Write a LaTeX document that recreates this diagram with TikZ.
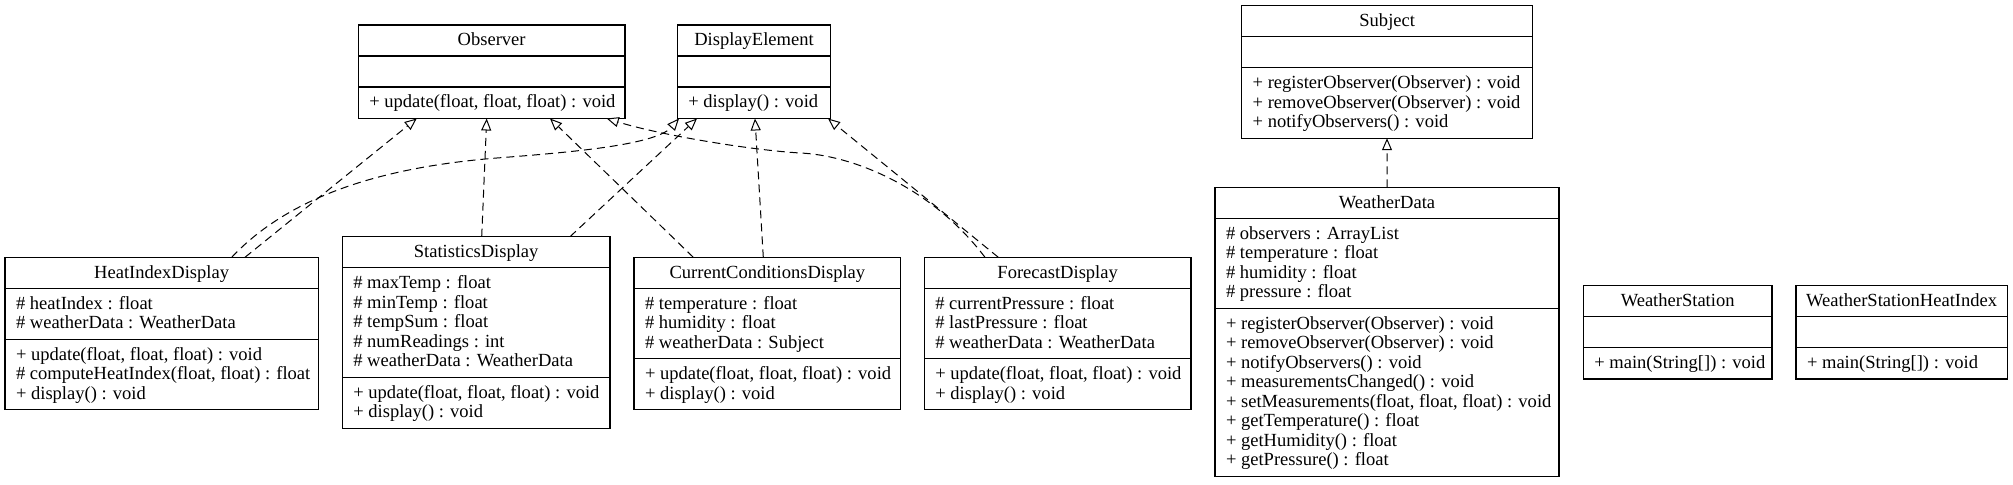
\documentclass[tikz,border=0pt]{standalone}
\usepackage{fontspec}
\setmainfont{Liberation Serif}
\usetikzlibrary{arrows.meta,calc}
\tikzset{
  classbox/.style={draw, line width=1.2bp, inner sep=0pt, outer sep=0pt, anchor=north west, fill=white},
  divider/.style={line width=1.2bp},
  headtxt/.style={inner sep=0pt, outer sep=0pt, anchor=base, font=\fontsize{18.6}{19.5}\selectfont},
  rowtxt/.style={inner sep=0pt, outer sep=0pt, anchor=base west, font=\fontsize{18.6}{19.5}\selectfont},
  realize/.style={line width=1bp, dash pattern=on 8bp off 5bp, -{Triangle[length=12bp,width=10bp,fill=white]}},
}
% #1 id, #2 left, #3 top, #4 right, #5 n attrs, #6 n methods, #7 name, #8 attrs, #9 methods
\newcommand{\ClassBox}[9]{%
  \pgfmathsetmacro{\cbHA}{#5==0 ? 31 : 19.5*#5+12}%
  \pgfmathsetmacro{\cbHM}{#6==0 ? 31 : 19.5*#6+12}%
  \pgfmathsetmacro{\cbDA}{#3+31}%
  \pgfmathsetmacro{\cbDM}{\cbDA+\cbHA}%
  \pgfmathsetmacro{\cbB}{\cbDM+\cbHM}%
  \pgfmathsetmacro{\cbW}{#4-#2}%
  \pgfmathsetmacro{\cbH}{\cbB-#3}%
  \node[classbox, minimum width=\cbW bp, minimum height=\cbH bp] (#1) at (#2,#3) {};
  \draw[divider] (#2,\cbDA) -- (#4,\cbDA);
  \draw[divider] (#2,\cbDM) -- (#4,\cbDM);
  \node[headtxt] (#1-name) at ({(#2+#4)/2},{#3+21}) {#7};
  \ifnum#5>0
    \foreach \cbT [count=\cbI] in {#8} {\node[rowtxt] (#1-a\cbI) at ({#2+\cbpad},{\cbDA+21+(\cbI-1)*19.5}) {\cbT};}
  \fi
  \ifnum#6>0
    \foreach \cbT [count=\cbI] in {#9} {\node[rowtxt] (#1-m\cbI) at ({#2+\cbpad},{\cbDM+21+(\cbI-1)*19.5}) {\cbT};}
  \fi
}
\def\cbpad{11}
\begin{document}
\begin{tikzpicture}[x=1bp,y=-1bp]
\fill[white] (0,0) rectangle (2013,485);
\useasboundingbox (0,0) rectangle (2013,485);

\ClassBox{obs}{358.3}{25}{625}{0}{1}{Observer}{}{{+ update(float, float, float) : void}}
\ClassBox{de}{677.3}{25}{830.7}{0}{1}{DisplayElement}{}{{+ display() : void}}
\ClassBox{subj}{1241.7}{5.7}{1532.7}{0}{3}{Subject}{}{{+ registerObserver(Observer) : void},{+ removeObserver(Observer) : void},{+ notifyObservers() : void}}

\ClassBox{hid}{5}{257.3}{318.3}{2}{3}{HeatIndexDisplay}{{\# heatIndex : float},{\# weatherData : WeatherData}}{{+ update(float, float, float) : void},{\# computeHeatIndex(float, float) : float},{+ display() : void}}
\ClassBox{stat}{342.3}{236.7}{610}{5}{2}{StatisticsDisplay}{{\# maxTemp : float},{\# minTemp : float},{\# tempSum : float},{\# numReadings : int},{\# weatherData : WeatherData}}{{+ update(float, float, float) : void},{+ display() : void}}
\ClassBox{ccd}{634}{257.3}{900.7}{3}{2}{CurrentConditionsDisplay}{{\# temperature : float},{\# humidity : float},{\# weatherData : Subject}}{{+ update(float, float, float) : void},{+ display() : void}}
\ClassBox{fc}{924.3}{257.3}{1191}{3}{2}{ForecastDisplay}{{\# currentPressure : float},{\# lastPressure : float},{\# weatherData : WeatherData}}{{+ update(float, float, float) : void},{+ display() : void}}
\ClassBox{wd}{1215}{187.3}{1559}{4}{8}{WeatherData}{{\# observers : ArrayList},{\# temperature : float},{\# humidity : float},{\# pressure : float}}{{+ registerObserver(Observer) : void},{+ removeObserver(Observer) : void},{+ notifyObservers() : void},{+ measurementsChanged() : void},{+ setMeasurements(float, float, float) : void},{+ getTemperature() : float},{+ getHumidity() : float},{+ getPressure() : float}}
\ClassBox{ws}{1583.3}{285.5}{1772}{0}{1}{WeatherStation}{}{{+ main(String[]) : void}}
\ClassBox{wshi}{1796}{285.5}{2007.3}{0}{1}{WeatherStationHeatIndex}{}{{+ main(String[]) : void}}

% realizations
\draw[realize] ($(hid.north west)+(240,0)$) -- ($(obs.south west)+(58.4,0)$);
\draw[realize] ($(hid.north west)+(226.7,0)$) .. controls (295,190) and (397,166) .. (497,158)
  .. controls (560,153) and (655,146) .. ($(de.south west)+(1.7,0)$);
\draw[realize] ($(stat.north west)+(139.4,0)$) -- ($(obs.south west)+(128.4,0)$);
\draw[realize] ($(stat.north west)+(227.7,0)$) -- ($(de.south west)+(19.7,0)$);
\draw[realize] ($(ccd.north west)+(59.3,0)$) -- ($(obs.south west)+(191.7,0)$);
\draw[realize] ($(ccd.north west)+(129.3,0)$) -- ($(de.south west)+(77.7,0)$);
\draw[realize] ($(fc.north west)+(60.7,0)$) .. controls (930,185) and (850,155) .. (800,153)
  .. controls (750,150) and (660,135) .. ($(obs.south west)+(248.4,0)$);
\draw[realize] ($(fc.north west)+(74,0)$) -- ($(de.south west)+(150.7,0)$);
\draw[realize] ($(wd.north west)+(172,0)$) -- ($(subj.south west)+(145.3,0)$);
\end{tikzpicture}
\end{document}
